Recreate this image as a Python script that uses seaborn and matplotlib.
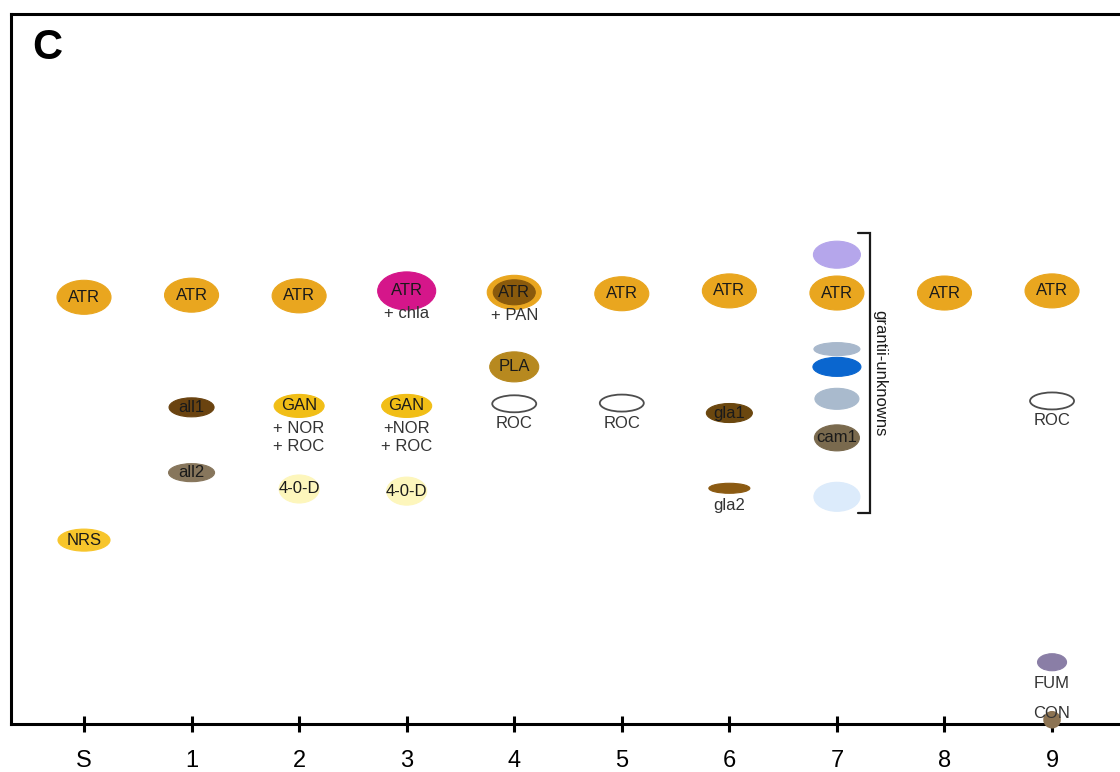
import matplotlib
matplotlib.use("Agg")
import matplotlib.pyplot as plt
from matplotlib.patches import Ellipse
import seaborn as sns
import pandas as pd

# Lanes of the TLC plate (S = standard mix)
lanes = ["S", "1", "2", "3", "4", "5", "6", "7", "8", "9"]

# Spots: lane index, Rf (0 = origin line, 1 = top of plate), compound code, note
spot_lane = [0, 0,
             1, 1, 1,
             2, 2, 2,
             3, 3, 3,
             4, 4, 4, 4,
             5, 5,
             6, 6, 6,
             7, 7, 7, 7, 7, 7, 7,
             8,
             9, 9, 9, 9]
spot_rf = [0.601, 0.259,
           0.604, 0.446, 0.354,
           0.603, 0.448, 0.331,
           0.610, 0.448, 0.328,
           0.608, 0.608, 0.503, 0.451,
           0.606, 0.452,
           0.610, 0.438, 0.332,
           0.661, 0.607, 0.528, 0.503, 0.458, 0.403, 0.320,
           0.607,
           0.610, 0.455, 0.087, 0.006]
spot_code = ["ATR", "NRS",
             "ATR", "all1", "all2",
             "ATR", "GAN", "4-0-D",
             "ATRc", "GAN", "4-0-D",
             "ATR", "PAN", "PLA", "ROC",
             "ATR", "ROC",
             "ATR", "gla1", "gla2",
             "u1", "ATR", "u2", "u3", "u4", "cam1", "u5",
             "ATR",
             "ATR", "ROC", "FUM", "CON"]
spot_note = ["", "",
             "", "", "",
             "", "+ NOR\n+ ROC", "",
             "+ chla", "+NOR\n+ ROC", "",
             "", "+ PAN", "", "ROC",
             "", "ROC",
             "", "", "gla2",
             "", "", "", "", "", "", "",
             "",
             "", "ROC", "FUM", "CON"]

bracket_label = "grantii-unknowns"
panel_label = "C"

spots = pd.DataFrame({"lane": spot_lane, "rf": spot_rf,
                      "code": spot_code, "note": spot_note})

# Appearance of each compound: fill, outline, size in pixels, inner text, note offset (px)
STYLE = {
    "ATR":   dict(face="#E9A61F", w=54, h=34, text="ATR"),
    "ATRc":  dict(face="#D5168A", w=58, h=38, text="ATR", dy=23),
    "PAN":   dict(face="#8A5A0C", w=42, h=25, text="", dy=23),
    "NRS":   dict(face="#F7C52B", w=52, h=22, text="NRS"),
    "all1":  dict(face="#6A4310", w=45, h=19, text="all1"),
    "all2":  dict(face="#87765C", w=46, h=18, text="all2"),
    "GAN":   dict(face="#F1BE16", w=50, h=23, text="GAN", dy=32),
    "4-0-D": dict(face="#FDF6BC", w=40, h=28, text="4-0-D"),
    "PLA":   dict(face="#B7891F", w=49, h=30, text="PLA"),
    "ROC":   dict(face="white", edge="#4d4d4d", w=44, h=17, text="", dy=20),
    "gla1":  dict(face="#6B470F", w=46, h=19, text="gla1"),
    "gla2":  dict(face="#8B5A12", w=41, h=10, text="", dy=17),
    "u1":    dict(face="#B5A6EB", w=47, h=27, text=""),
    "u2":    dict(face="#A8B8CC", w=46, h=13, text=""),
    "u3":    dict(face="#0A66CF", w=48, h=19, text=""),
    "u4":    dict(face="#A9BACD", w=44, h=21, text=""),
    "cam1":  dict(face="#7A6A4E", w=45, h=26, text="cam1"),
    "u5":    dict(face="#DCEBFB", w=46, h=29, text=""),
    "FUM":   dict(face="#8A7EA6", w=29, h=17, text="", dy=21),
    "CON":   dict(face="#8C7352", w=0, h=0, text="", dy=-6),
}

W, H = 1120, 772
sns.set_style("white")
plt.rcParams["font.family"] = ["Liberation Sans", "DejaVu Sans"]

fig = plt.figure(figsize=(W / 100, H / 100), dpi=100)
left_px, right_px, top_px, bottom_px = 11, 1120, 14, 724
ax = fig.add_axes([left_px / W, (H - bottom_px) / H,
                   (right_px - left_px) / W, (bottom_px - top_px) / H])

lane_px0, lane_step = 84, 107.56
ax.set_xlim((left_px - lane_px0) / lane_step, (right_px - lane_px0) / lane_step)
ax.set_ylim(0, 1)
px_x = 1.0 / lane_step                 # one pixel in lane units
px_y = 1.0 / (bottom_px - top_px)      # one pixel in Rf units

# Spots drawn as ellipses
for _, r in spots.iterrows():
    st = STYLE[r["code"]]
    if st["w"] == 0:
        continue
    edge = st.get("edge", st["face"])
    lw = 1.3 if "edge" in st else 0.8
    ax.add_patch(Ellipse((r["lane"], r["rf"]), st["w"] * px_x, st["h"] * px_y,
                         facecolor=st["face"], edgecolor=edge, linewidth=lw,
                         zorder=2))

# Origin spot of lane 9 sits on the baseline
con = spots[spots["code"] == "CON"]
sns.scatterplot(data=con, x="lane", y="rf", ax=ax, s=160, color=STYLE["CON"]["face"],
                edgecolor="none", zorder=6, clip_on=False, legend=False)

# Inner labels and notes
for _, r in spots.iterrows():
    st = STYLE[r["code"]]
    if st["text"]:
        ax.text(r["lane"], r["rf"], st["text"], ha="center", va="center",
                fontsize=12, color="#1a1a1a", zorder=4)
    if r["note"]:
        ax.annotate(r["note"], (r["lane"], r["rf"]),
                    xytext=(0, -st.get("dy", 20) * 0.72), textcoords="offset points",
                    ha="center", va="center", fontsize=12, color="#333333",
                    linespacing=1.25, zorder=7, annotation_clip=False)

# Bracket grouping the unknown spots of lane 7
bx = 7 + (872 - 839) * px_x
bx0 = 7 + (860 - 839) * px_x
y_top = (bottom_px - 233) * px_y
y_bot = (bottom_px - 513) * px_y
ax.plot([bx0, bx, bx, bx0], [y_top, y_top, y_bot, y_bot], color="#1a1a1a",
        linewidth=1.6, solid_joinstyle="miter", zorder=3)
ax.text(bx + 10 * px_x, (y_top + y_bot) / 2, bracket_label, rotation=-90,
        ha="center", va="center", fontsize=12, color="#1a1a1a")

# Axes styling
ax.set_xticks(range(len(lanes)))
ax.set_xticklabels(lanes)
ax.set_yticks([])
ax.set_xlabel("")
ax.set_ylabel("")
ax.tick_params(axis="x", direction="inout", length=12, width=2.2, pad=13,
               labelsize=17, colors="black", bottom=True)
for side in ["left", "top", "bottom"]:
    ax.spines[side].set_visible(True)
    ax.spines[side].set_color("black")
    ax.spines[side].set_linewidth(2.2)
ax.spines["right"].set_visible(False)

fig.text(47 / W, 1 - 48 / H, panel_label, fontsize=30, fontweight="bold",
         ha="center", va="center", color="black")

fig.savefig("out.png", dpi=100)
